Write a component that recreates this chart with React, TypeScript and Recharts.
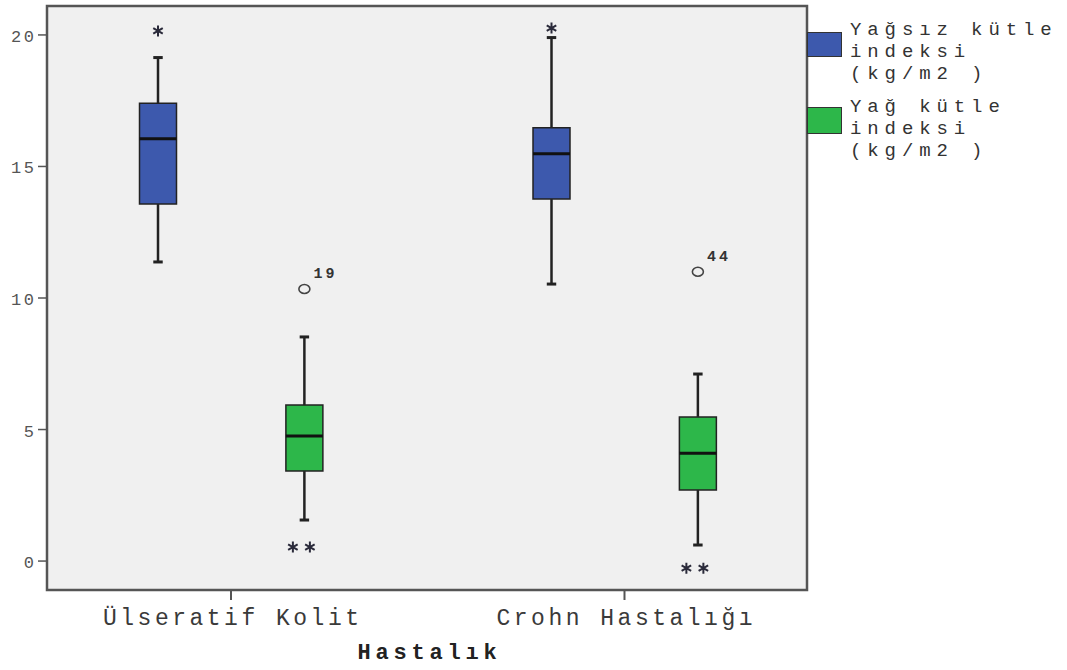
import React from 'react';
import { ComposedChart, XAxis, YAxis, ReferenceArea, ReferenceLine, Scatter, Legend } from 'recharts';

// ---------- data ----------
const categories = ['Ülseratif Kolit', 'Crohn Hastalığı'];
const axisTitle = 'Hastalık';
const yTicks = [0, 5, 10, 15, 20];
const leanLegendLines = ['Yağsız kütle', 'indeksi', '(kg/m2 )'];
const fatLegendLines = ['Yağ kütle', 'indeksi', '(kg/m2 )'];

// Yağsız kütle indeksi (kg/m2)
const leanWhiskerLow = [11.37, 10.53];
const leanQ1 = [13.57, 13.76];
const leanMedian = [16.05, 15.48];
const leanQ3 = [17.4, 16.47];
const leanWhiskerHigh = [19.14, 19.9];
const leanExtremes = [[20.15], [20.26]];
const leanOutliers: { value: number; caseId: string }[][] = [[], []];

// Yağ kütle indeksi (kg/m2)
const fatWhiskerLow = [1.56, 0.61];
const fatQ1 = [3.42, 2.7];
const fatMedian = [4.75, 4.1];
const fatQ3 = [5.93, 5.48];
const fatWhiskerHigh = [8.52, 7.11];
const fatExtremes = [[0.53, 0.53], [-0.27, -0.27]];
const fatOutliers = [[{ value: 10.34, caseId: '19' }], [{ value: 11.0, caseId: '44' }]];

// ---------- layout / style ----------
const X_DOMAIN: [number, number] = [0.5324, 2.4638];
const Y_DOMAIN: [number, number] = [-1.1, 21.1];
const GROUP_OFFSET = [-0.1855, 0.1865];
const BOX_HALF = 0.047;
const CAP_HALF = 0.012;
const MONO = '"Liberation Mono", "DejaVu Sans Mono", monospace';
const FS = 23;
const LS = 3.5;
const LEG_FS = 19;
const LEG_LS = 5.9;

const series = [
  {
    key: 'lean',
    color: '#3d59ad',
    lo: leanWhiskerLow, q1: leanQ1, med: leanMedian, q3: leanQ3, hi: leanWhiskerHigh,
    extremes: leanExtremes, outliers: leanOutliers, legend: leanLegendLines,
  },
  {
    key: 'fat',
    color: '#2db74a',
    lo: fatWhiskerLow, q1: fatQ1, med: fatMedian, q3: fatQ3, hi: fatWhiskerHigh,
    extremes: fatExtremes, outliers: fatOutliers, legend: fatLegendLines,
  },
];

const circleData = series.flatMap((s, si) =>
  s.outliers.flatMap((list, ci) =>
    list.map((o) => ({ x: ci + 1 + GROUP_OFFSET[si], y: o.value, caseId: o.caseId }))
  )
);

const starData = series.flatMap((s, si) =>
  s.extremes.flatMap((list, ci) =>
    list.map((v, k) => ({ x: ci + 1 + GROUP_OFFSET[si], y: v, rank: k, count: list.length }))
  )
);

const CircleShape = (props: any) => {
  const { cx, cy, payload } = props;
  if (cx == null || cy == null) return null;
  return (
    <g>
      <ellipse cx={cx} cy={cy} rx={5.5} ry={4.5} fill="none" stroke="#444" strokeWidth={1.6} />
      <text
        x={cx + 9}
        y={cy - 11}
        fontFamily={MONO}
        fontWeight="bold"
        fontSize={15}
        letterSpacing={3}
        fill="#333"
      >
        {payload.caseId}
      </text>
    </g>
  );
};

const StarShape = (props: any) => {
  const { cx, cy, payload } = props;
  if (cx == null || cy == null) return null;
  const n = payload.count;
  const dx = n > 1 ? (payload.rank - (n - 1) / 2) * 17 - 3 : 0;
  const x = cx + dx;
  const r = 5.5;
  const a = r * Math.cos(Math.PI / 6);
  const b = r * Math.sin(Math.PI / 6);
  return (
    <path
      d={`M${x},${cy - r}L${x},${cy + r}M${x - a},${cy - b}L${x + a},${cy + b}M${x - a},${cy + b}L${x + a},${cy - b}`}
      stroke="#2a2a3a"
      strokeWidth={2}
      fill="none"
    />
  );
};

const XTick = (props: any) => {
  const { x, y, payload } = props;
  const label = categories[Math.round(payload.value) - 1];
  return (
    <text
      x={x + LS / 2}
      y={y + 25}
      textAnchor="middle"
      fontFamily={MONO}
      fontSize={FS}
      letterSpacing={LS}
      fill="#3a3a3a"
    >
      {label}
    </text>
  );
};

const YTick = (props: any) => {
  const { x, y, payload } = props;
  return (
    <text
      x={x - 1.5}
      y={y + 7}
      textAnchor="end"
      fontFamily={MONO}
      fontSize={17}
      letterSpacing={2.5}
      fill="#555"
    >
      {payload.value}
    </text>
  );
};

const AxisTitle = (props: any) => {
  const vb = props.viewBox || { x: 47, y: 590, width: 760 };
  return (
    <text
      x={vb.x + vb.width / 2 + 2.4}
      y={vb.y + 69}
      textAnchor="middle"
      fontFamily={MONO}
      fontWeight="bold"
      fontSize={22}
      letterSpacing={4.8}
      fill="#222"
    >
      {axisTitle}
    </text>
  );
};

const LegendContent = () => {
  const tops = [19, 96];
  const swatchTops = [32, 107];
  const swatchH = [25, 27];
  return (
    <div style={{ position: 'relative', width: 259, height: 170 }}>
      {series.map((s, si) => (
        <React.Fragment key={s.key}>
          <div
            style={{
              position: 'absolute',
              left: 0,
              top: swatchTops[si],
              width: 35,
              height: swatchH[si],
              background: s.color,
              border: '1px solid #333',
              boxSizing: 'border-box',
            }}
          />
          <div
            style={{
              position: 'absolute',
              left: 43,
              top: tops[si],
              fontFamily: MONO,
              fontSize: LEG_FS,
              lineHeight: '22px',
              letterSpacing: LEG_LS,
              color: '#333',
              whiteSpace: 'pre',
            }}
          >
            {s.legend.map((line, li) => (
              <div key={li}>{line}</div>
            ))}
          </div>
        </React.Fragment>
      ))}
    </div>
  );
};

export default function App() {
  const boxes: React.ReactNode[] = [];
  series.forEach((s, si) => {
    categories.forEach((_, ci) => {
      const cx = ci + 1 + GROUP_OFFSET[si];
      const k = `${s.key}-${ci}`;
      boxes.push(
        <ReferenceLine
          key={`wu-${k}`}
          segment={[{ x: cx, y: s.q3[ci] }, { x: cx, y: s.hi[ci] }]}
          stroke="#222"
          strokeWidth={2.5}
        />,
        <ReferenceLine
          key={`wl-${k}`}
          segment={[{ x: cx, y: s.lo[ci] }, { x: cx, y: s.q1[ci] }]}
          stroke="#222"
          strokeWidth={2.5}
        />,
        <ReferenceLine
          key={`cu-${k}`}
          segment={[{ x: cx - CAP_HALF, y: s.hi[ci] }, { x: cx + CAP_HALF, y: s.hi[ci] }]}
          stroke="#222"
          strokeWidth={3}
        />,
        <ReferenceLine
          key={`cl-${k}`}
          segment={[{ x: cx - CAP_HALF, y: s.lo[ci] }, { x: cx + CAP_HALF, y: s.lo[ci] }]}
          stroke="#222"
          strokeWidth={3}
        />,
        <ReferenceArea
          key={`box-${k}`}
          x1={cx - BOX_HALF}
          x2={cx + BOX_HALF}
          y1={s.q1[ci]}
          y2={s.q3[ci]}
          fill={s.color}
          fillOpacity={1}
          stroke="#222"
          strokeWidth={1.5}
        />,
        <ReferenceLine
          key={`med-${k}`}
          segment={[{ x: cx - BOX_HALF, y: s.med[ci] }, { x: cx + BOX_HALF, y: s.med[ci] }]}
          stroke="#111"
          strokeWidth={3}
        />
      );
    });
  });

  return (
    <div style={{ position: 'absolute', left: 0, top: 0, width: 1067, height: 670, background: '#fff' }}>
      <ComposedChart
        width={1067}
        height={670}
        margin={{ top: 6, right: 1, bottom: 0, left: 0 }}
      >
        <XAxis
          type="number"
          dataKey="x"
          domain={X_DOMAIN}
          allowDataOverflow
          ticks={[1, 2]}
          height={80}
          axisLine={false}
          tickSize={10}
          tickMargin={0}
          tickLine={{ stroke: '#555', strokeWidth: 2 }}
          tick={<XTick />}
          label={<AxisTitle />}
        />
        <YAxis
          type="number"
          dataKey="y"
          domain={Y_DOMAIN}
          allowDataOverflow
          ticks={yTicks}
          width={47}
          axisLine={false}
          tickSize={9}
          tickMargin={0}
          tickLine={{ stroke: '#555', strokeWidth: 1.5 }}
          tick={<YTick />}
        />
        <Legend
          layout="vertical"
          align="right"
          verticalAlign="top"
          wrapperStyle={{ left: 807, top: 0, right: 'auto', width: 259, height: 170 }}
          content={<LegendContent />}
        />
        <ReferenceArea
          x1={X_DOMAIN[0]}
          x2={X_DOMAIN[1]}
          y1={Y_DOMAIN[0]}
          y2={Y_DOMAIN[1]}
          fill="#f0f0f0"
          fillOpacity={1}
          stroke="#555"
          strokeWidth={2.5}
          ifOverflow="visible"
        />
        {boxes}
        <Scatter data={circleData} shape={<CircleShape />} isAnimationActive={false} legendType="none" />
        <Scatter data={starData} shape={<StarShape />} isAnimationActive={false} legendType="none" />
      </ComposedChart>
    </div>
  );
}
